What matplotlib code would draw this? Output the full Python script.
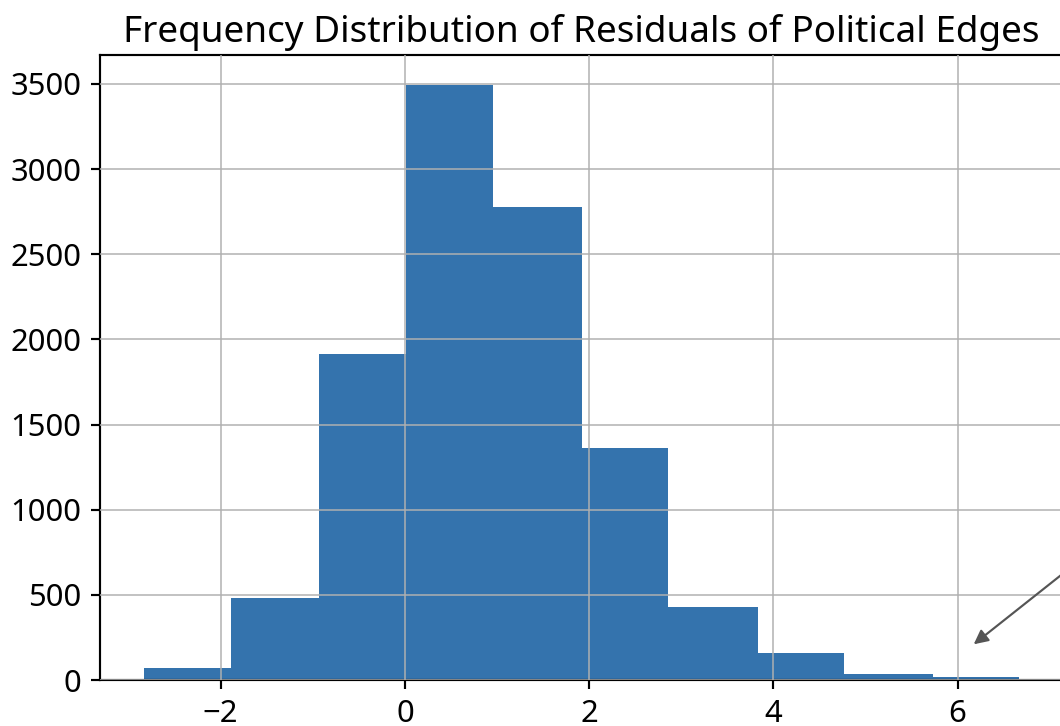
import numpy as np
import matplotlib.pyplot as plt

plt.rcParams['font.family'] = ['Noto Sans', 'DejaVu Sans']

# histogram
bin_edges = [-2.835, -1.886, -0.93, 0.01, 0.955, 1.92, 2.86, 3.83, 4.77, 5.73, 6.67]
counts = [70, 480, 1915, 3495, 2775, 1360, 430, 158, 38, 20]
title = "Frequency Distribution of Residuals of Political Edges"

# arrow pointing at the far tail
arrow_head = (6.13, 190)
arrow_tail = (7.6, 820)

fig = plt.figure(figsize=(1060 / 194, 726 / 194), dpi=194)
ax = fig.add_axes([100 / 1060, 1 - 680 / 726, 963 / 1060, 625 / 726])

centers = [(a + b) / 2 for a, b in zip(bin_edges[:-1], bin_edges[1:])]
ax.hist(centers, bins=bin_edges, weights=counts, color='#3473ad')
ax.grid(True, color='#b0b0b0', linewidth=0.7, alpha=0.8)
ax.set_axisbelow(False)
ax.set_title(title, fontsize=13.7, pad=5)
ax.set_xticks([-2, 0, 2, 4, 6])
ax.set_yticks(np.arange(0, 3501, 500))
ax.tick_params(labelsize=11.5)

ax.annotate('', xy=arrow_head, xytext=arrow_tail,
            arrowprops=dict(arrowstyle='-|>', color='#555555', lw=0.8,
                            mutation_scale=11),
            annotation_clip=False)

fig.savefig('out.png', dpi=194)
